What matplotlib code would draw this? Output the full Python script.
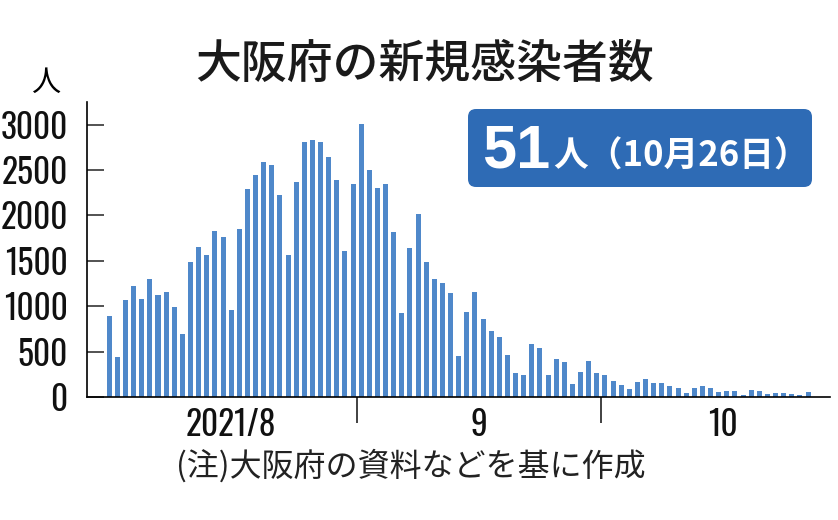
import numpy as np
import matplotlib.pyplot as plt
import matplotlib.transforms as mtransforms
from matplotlib.patches import FancyBboxPatch

# 大阪府の新規感染者数 2021/8/1 - 10/26
cases = [890, 441, 1073, 1220, 1084, 1305, 1121, 1162, 993, 691,
         1485, 1654, 1562, 1827, 1768, 963, 1856, 2297, 2441, 2588,
         2555, 2224, 1559, 2367, 2812, 2834, 2812, 2643, 2389, 1606,
         2349, 3004, 2503, 2305, 2349, 1820, 923, 1647, 2011, 1485,
         1305, 1261, 1147, 448, 936, 1160, 855, 730, 664, 462,
         264, 246, 587, 536, 239, 418, 382, 139, 275, 393,
         261, 239, 176, 132, 92, 169, 202, 158, 158, 121,
         99, 48, 95, 121, 103, 59, 70, 66, 26, 77,
         66, 37, 48, 40, 33, 26, 51]
month_bounds = [30.5, 60.5]          # 8/31|9/1, 9/30|10/1
month_labels = ["2021/8", "9", "10"]
month_centers = [15, 45.5, 75.5]
y_ticks = [0, 500, 1000, 1500, 2000, 2500, 3000]

jp = ['Noto Sans CJK JP', 'DejaVu Sans']
num = ['Oswald Light', 'Oswald', 'Roboto Condensed', 'Liberation Sans', 'DejaVu Sans']

fig = plt.figure(figsize=(8.38, 5.2), dpi=100)
ax = fig.add_axes([87/838, 123/520, (830-87)/838, (397-102)/520])

x = np.arange(len(cases))
ax.bar(x, cases, width=0.62, color='#4f88ca')

ax.set_xlim(-2.74, 88.7)
ax.set_ylim(0, 3250)
ax.spines['top'].set_visible(False)
ax.spines['right'].set_visible(False)
ax.spines['left'].set_linewidth(1.2)
ax.spines['bottom'].set_linewidth(1.2)

ax.set_yticks(y_ticks)
ax.set_yticklabels([str(v) for v in y_ticks], family=num, fontsize=24,
                   fontweight='light', color='#111111')
ax.tick_params(axis='y', direction='in', length=12, width=1.3, color='#444444', pad=14)

ax.set_xticks(month_bounds)
ax.set_xticklabels([])
ax.tick_params(axis='x', which='major', direction='out', length=19, width=1.3, color='#333333')
ax.set_xticks(month_centers, minor=True)
ax.set_xticklabels(month_labels, minor=True, family=num, fontsize=24,
                   fontweight='light', color='#111111')
ax.tick_params(axis='x', which='minor', length=0, pad=8)

fig.text(425/838, 1 - 64/520, "大阪府の新規感染者数", family=jp, fontsize=33,
         fontweight='medium', ha='center', va='center', color='#1a1a1a')
fig.text(46/838, 1 - 83/520, "人", family=jp, fontsize=21, ha='center', va='center')
fig.text(411/838, 1 - 466/520, "(注)大阪府の資料などを基に作成", family=jp, fontsize=23,
         ha='center', va='center', color='#222222')

# 右上の囲み
ident = mtransforms.IdentityTransform()
box = FancyBboxPatch((468, 520 - 187), 344, 78, boxstyle="round,pad=0,rounding_size=8",
                     transform=ident, facecolor='#2e6bb5', edgecolor='none')
fig.patches.append(box)
fig.text(482, 520 - 167, "51", transform=ident, family=['Liberation Sans', 'DejaVu Sans'],
         fontsize=44, fontweight='bold', color='white', ha='left', va='baseline')
fig.text(553, 520 - 167, "人（10月26日）", transform=ident, family=jp,
         fontsize=25, fontweight='bold', color='white', ha='left', va='baseline')

fig.savefig("out.png", dpi=100)
